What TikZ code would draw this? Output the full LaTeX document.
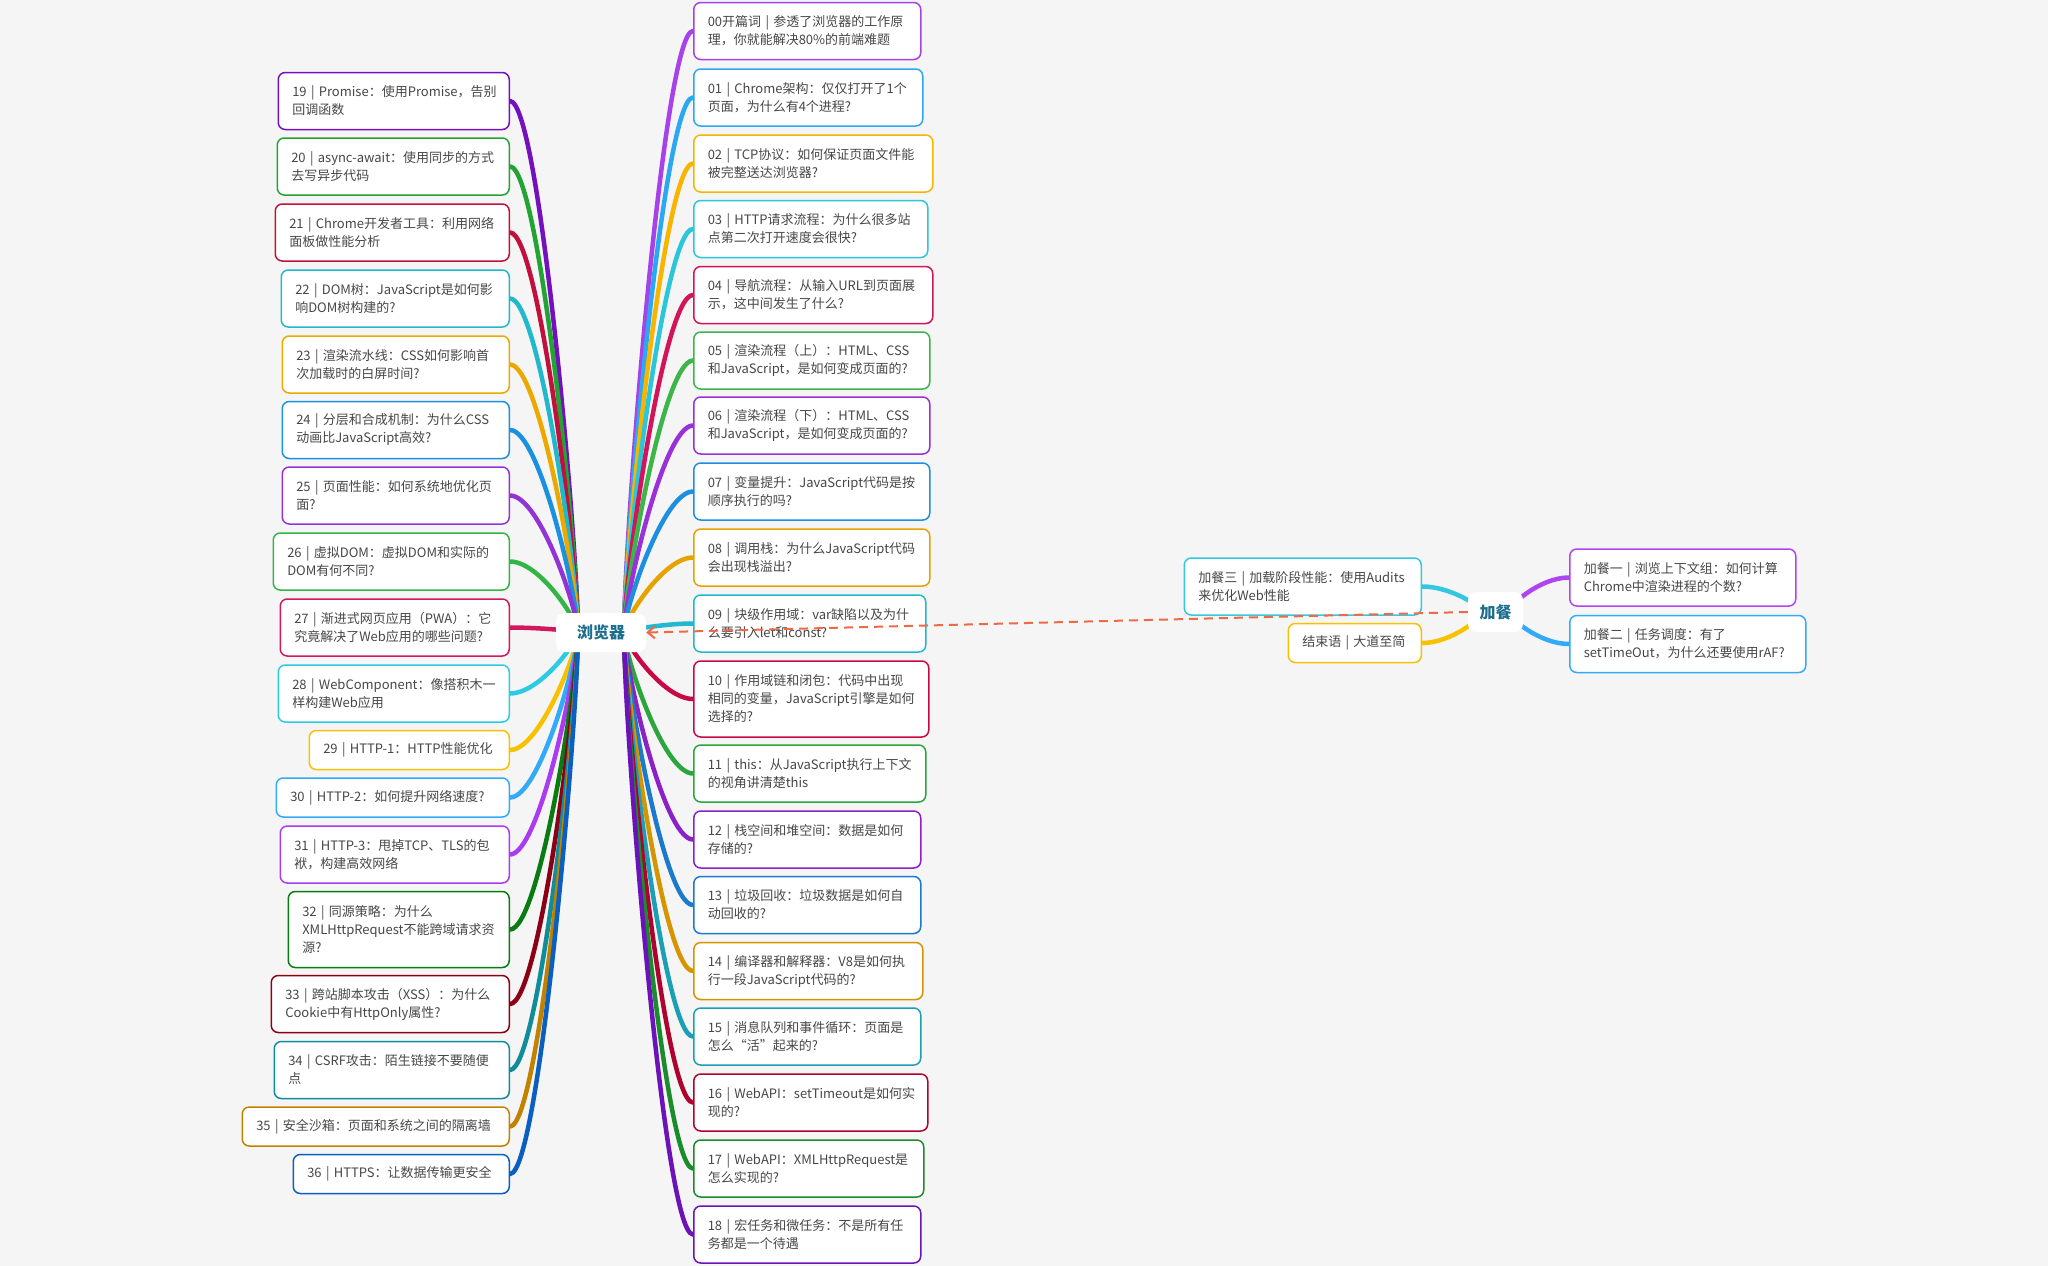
\documentclass[tikz,border=0pt]{standalone}
\usepackage{fontspec}
\setmainfont{Noto Sans CJK SC}
\usetikzlibrary{calc,arrows.meta}
\pgfdeclarelayer{bg}
\pgfsetlayers{bg,main}
\definecolor{bgc}{HTML}{F4F5F4}
\definecolor{txt}{HTML}{474747}
\definecolor{ctext}{HTML}{1C6E8E}
\definecolor{dashc}{HTML}{EE6A45}
\definecolor{c00}{HTML}{A742EA}
\definecolor{c01}{HTML}{2BA8F2}
\definecolor{c02}{HTML}{F7B500}
\definecolor{c03}{HTML}{2CC6DC}
\definecolor{c04}{HTML}{D2145A}
\definecolor{c05}{HTML}{3DB54A}
\definecolor{c06}{HTML}{9A30D8}
\definecolor{c07}{HTML}{1E8FE0}
\definecolor{c08}{HTML}{E6A300}
\definecolor{c09}{HTML}{22B8D0}
\definecolor{c10}{HTML}{C70A45}
\definecolor{c11}{HTML}{2AA63C}
\definecolor{c12}{HTML}{8A22C8}
\definecolor{c13}{HTML}{1B7ACB}
\definecolor{c14}{HTML}{D69400}
\definecolor{c15}{HTML}{1AA0B2}
\definecolor{c16}{HTML}{B0022F}
\definecolor{c17}{HTML}{1A8C2C}
\definecolor{c18}{HTML}{6B12B8}
\definecolor{c19}{HTML}{7510BE}
\definecolor{c20}{HTML}{22A334}
\definecolor{c21}{HTML}{C2103E}
\definecolor{c22}{HTML}{22B8CC}
\definecolor{c23}{HTML}{EBA900}
\definecolor{c24}{HTML}{1A90E0}
\definecolor{c25}{HTML}{9233D8}
\definecolor{c26}{HTML}{33B445}
\definecolor{c27}{HTML}{D2185C}
\definecolor{c28}{HTML}{2DCBE3}
\definecolor{c29}{HTML}{F8C100}
\definecolor{c30}{HTML}{33AAF8}
\definecolor{c31}{HTML}{AA3BF0}
\definecolor{c32}{HTML}{0A7A12}
\definecolor{c33}{HTML}{8C0015}
\definecolor{c34}{HTML}{118C9A}
\definecolor{c35}{HTML}{C28200}
\definecolor{c36}{HTML}{0A5FC2}
\definecolor{cj3}{HTML}{33C8E0}
\definecolor{cje}{HTML}{F8C100}
\definecolor{cj1}{HTML}{B044F0}
\definecolor{cj2}{HTML}{33AAF8}
\newcommand{\tfont}{\fontsize{13}{18}\selectfont\hyphenpenalty=10000\exhyphenpenalty=10000}
\newcommand{\cfont}{\fontsize{16}{20}\selectfont\bfseries}
\tikzset{
  tbox/.style={draw=#1, fill=white, rounded corners=7pt, line width=1.5pt,
    inner xsep=14pt, inner ysep=0pt, align=left, text=txt, font=\tfont},
  conn/.style={draw=#1, line width=4.5pt, line cap=round},
  cnode/.style={fill=white, rounded corners=8pt, text=ctext, font=\cfont, inner sep=0pt},
  dashline/.style={draw=dashc, line width=2pt, dash pattern=on 9pt off 6pt,
    -{Straight Barb[length=7pt,width=12pt]}},
}
\begin{document}
\begin{tikzpicture}[x=1pt,y=-1pt]
\useasboundingbox (0,0) rectangle (2048,1266);
\coordinate (SL) at (578,632);
\coordinate (SR) at (624,632);
\coordinate (JL) at (1483,612);
\coordinate (JR) at (1508,612);
% left column
\node[tbox=c19, text width=203pt, minimum height=57pt, anchor=east] (b19) at (510,101) {19~|~Promise：使用Promise，告别\\回调函数};
\node[tbox=c20, text width=204pt, minimum height=57pt, anchor=east] (b20) at (510,166.5) {20~|~async-await：使用同步的方式\\去写异步代码};
\node[tbox=c21, text width=206pt, minimum height=57pt, anchor=east] (b21) at (510,232.5) {21~|~Chrome开发者工具：利用网络\\面板做性能分析};
\node[tbox=c22, text width=200pt, minimum height=57pt, anchor=east] (b22) at (510,298.5) {22~|~DOM树：JavaScript是如何影\\响DOM树构建的?};
\node[tbox=c23, text width=199pt, minimum height=57pt, anchor=east] (b23) at (510,364.5) {23~|~渲染流水线：CSS如何影响首\\次加载时的白屏时间?};
\node[tbox=c24, text width=199pt, minimum height=57pt, anchor=east] (b24) at (510,430) {24~|~分层和合成机制：为什么CSS\\动画比JavaScript高效?};
\node[tbox=c25, text width=199pt, minimum height=57pt, anchor=east] (b25) at (510,495.5) {25~|~页面性能：如何系统地优化页\\面?};
\node[tbox=c26, text width=208pt, minimum height=57pt, anchor=east] (b26) at (510,561.5) {26~|~虚拟DOM：虚拟DOM和实际的\\DOM有何不同?};
\node[tbox=c27, text width=201pt, minimum height=57pt, anchor=east] (b27) at (510,627.5) {27~|~渐进式网页应用（PWA）：它\\究竟解决了Web应用的哪些问题?};
\node[tbox=c28, text width=203pt, minimum height=57pt, anchor=east] (b28) at (510,693.5) {28~|~WebComponent：像搭积木一\\样构建Web应用};
\node[tbox=c29, text width=172pt, minimum height=39pt, anchor=east] (b29) at (510,750) {29~|~HTTP-1：HTTP性能优化};
\node[tbox=c30, text width=205pt, minimum height=39pt, anchor=east] (b30) at (510,797.5) {30~|~HTTP-2：如何提升网络速度?};
\node[tbox=c31, text width=201pt, minimum height=57pt, anchor=east] (b31) at (510,854.5) {31~|~HTTP-3：甩掉TCP、TLS的包\\袱，构建高效网络};
\node[tbox=c32, text width=193pt, minimum height=76pt, anchor=east] (b32) at (510,929.5) {32~|~同源策略：为什么\\XMLHttpRequest不能跨域请求资\\源?};
\node[tbox=c33, text width=210pt, minimum height=57pt, anchor=east] (b33) at (510,1004) {33~|~跨站脚本攻击（XSS）：为什么\\Cookie中有HttpOnly属性?};
\node[tbox=c34, text width=207pt, minimum height=57pt, anchor=east] (b34) at (510,1070) {34~|~CSRF攻击：陌生链接不要随便\\点};
\node[tbox=c35, text width=239pt, minimum height=39pt, anchor=east] (b35) at (510,1126.5) {35~|~安全沙箱：页面和系统之间的隔离墙};
\node[tbox=c36, text width=188pt, minimum height=39pt, anchor=east] (b36) at (510,1174) {36~|~HTTPS：让数据传输更安全};
% right column
\node[tbox=c00, text width=199pt, minimum height=57pt, anchor=west] (b00) at (693,31) {00开篇词~|~参透了浏览器的工作原\\理，你就能解决80\%的前端难题};
\node[tbox=c01, text width=201pt, minimum height=57pt, anchor=west] (b01) at (693,97.5) {01~|~Chrome架构：仅仅打开了1个\\页面，为什么有4个进程?};
\node[tbox=c02, text width=211pt, minimum height=57pt, anchor=west] (b02) at (693,163.5) {02~|~TCP协议：如何保证页面文件能\\被完整送达浏览器?};
\node[tbox=c03, text width=206pt, minimum height=57pt, anchor=west] (b03) at (693,229) {03~|~HTTP请求流程：为什么很多站\\点第二次打开速度会很快?};
\node[tbox=c04, text width=211pt, minimum height=57pt, anchor=west] (b04) at (693,295) {04~|~导航流程：从输入URL到页面展\\示，这中间发生了什么?};
\node[tbox=c05, text width=208pt, minimum height=57pt, anchor=west] (b05) at (693,360.5) {05~|~渲染流程（上）：HTML、CSS\\和JavaScript，是如何变成页面的?};
\node[tbox=c06, text width=208pt, minimum height=57pt, anchor=west] (b06) at (693,425.5) {06~|~渲染流程（下）：HTML、CSS\\和JavaScript，是如何变成页面的?};
\node[tbox=c07, text width=208pt, minimum height=57pt, anchor=west] (b07) at (693,491.5) {07~|~变量提升：JavaScript代码是按\\顺序执行的吗?};
\node[tbox=c08, text width=208pt, minimum height=57pt, anchor=west] (b08) at (693,557.5) {08~|~调用栈：为什么JavaScript代码\\会出现栈溢出?};
\node[tbox=c09, text width=204pt, minimum height=57pt, anchor=west] (b09) at (693,623.5) {09~|~块级作用域：var缺陷以及为什\\么要引入let和const?};
\node[tbox=c10, text width=207pt, minimum height=76pt, anchor=west] (b10) at (693,699) {10~|~作用域链和闭包：代码中出现\\相同的变量，JavaScript引擎是如何\\选择的?};
\node[tbox=c11, text width=204pt, minimum height=57pt, anchor=west] (b11) at (693,773.5) {11~|~this：从JavaScript执行上下文\\的视角讲清楚this};
\node[tbox=c12, text width=199pt, minimum height=57pt, anchor=west] (b12) at (693,839.5) {12~|~栈空间和堆空间：数据是如何\\存储的?};
\node[tbox=c13, text width=199pt, minimum height=57pt, anchor=west] (b13) at (693,905) {13~|~垃圾回收：垃圾数据是如何自\\动回收的?};
\node[tbox=c14, text width=201pt, minimum height=57pt, anchor=west] (b14) at (693,971) {14~|~编译器和解释器：V8是如何执\\行一段JavaScript代码的?};
\node[tbox=c15, text width=199pt, minimum height=57pt, anchor=west] (b15) at (693,1036.5) {15~|~消息队列和事件循环：页面是\\怎么“活”起来的?};
\node[tbox=c16, text width=206pt, minimum height=57pt, anchor=west] (b16) at (693,1102.5) {16~|~WebAPI：setTimeout是如何实\\现的?};
\node[tbox=c17, text width=202pt, minimum height=57pt, anchor=west] (b17) at (693,1168.5) {17~|~WebAPI：XMLHttpRequest是\\怎么实现的?};
\node[tbox=c18, text width=199pt, minimum height=57pt, anchor=west] (b18) at (693,1234.5) {18~|~宏任务和微任务：不是所有任\\务都是一个待遇};
% extra group
\node[tbox=cj3, text width=209pt, minimum height=57pt, anchor=east] (j3) at (1422,586.5) {加餐三~|~加载阶段性能：使用Audits\\来优化Web性能};
\node[tbox=cje, text width=105pt, minimum height=39pt, anchor=east] (je) at (1422,643) {结束语~|~大道至简};
\node[tbox=cj1, text width=198pt, minimum height=57pt, anchor=west] (j1) at (1569,577.5) {加餐一~|~浏览上下文组：如何计算\\Chrome中渲染进程的个数?};
\node[tbox=cj2, text width=208pt, minimum height=57pt, anchor=west] (j2) at (1569,644) {加餐二~|~任务调度：有了\\setTimeOut，为什么还要使用rAF?};
% central nodes
\node[cnode, minimum width=90pt, minimum height=39pt] (brw) at (601,632.5) {浏览器};
\node[cnode, minimum width=55pt, minimum height=40pt] (jc) at (1495.5,612) {加餐};
% connectors
\begin{pgfonlayer}{bg}
\fill[bgc] (0,0) rectangle (2048,1266);
\foreach \n in {19,20,...,36} {
  \draw[conn=c\n] (b\n.east) .. controls +(30,0) and ($(SL)!0.15!(SL |- b\n.east)$) .. (SL);
}
\foreach \n in {00,01,02,03,04,05,06,07,08,09,10,11,12,13,14,15,16,17,18} {
  \draw[conn=c\n] (b\n.west) .. controls +(-30,0) and ($(SR)!0.15!(SR |- b\n.west)$) .. (SR);
}
\draw[conn=cj3] (j3.east) .. controls +(30,0) and ($(JL)!0.15!(JL |- j3.east)$) .. (JL);
\draw[conn=cje] (je.east) .. controls +(30,0) and ($(JL)!0.15!(JL |- je.east)$) .. (JL);
\draw[conn=cj1] (j1.west) .. controls +(-30,0) and ($(JR)!0.15!(JR |- j1.west)$) .. (JR);
\draw[conn=cj2] (j2.west) .. controls +(-30,0) and ($(JR)!0.15!(JR |- j2.west)$) .. (JR);
\end{pgfonlayer}
\draw[dashline] (jc.west) -- (brw.east);
\end{tikzpicture}
\end{document}
